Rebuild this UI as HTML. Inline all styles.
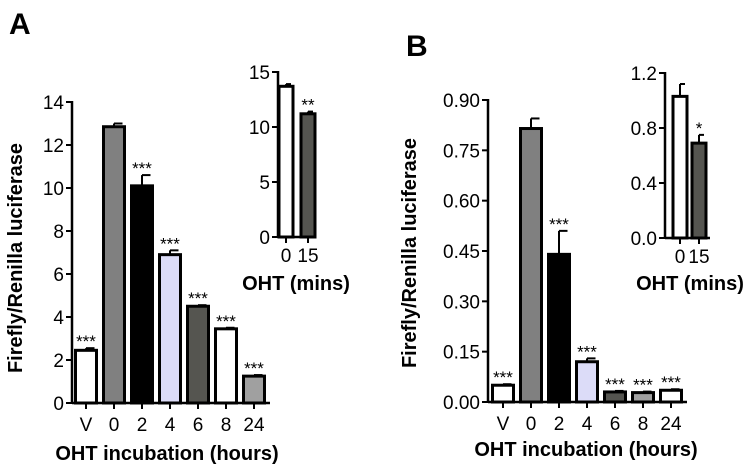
<!DOCTYPE html>
<html><head><meta charset="utf-8"><style>
body{margin:0;background:#fff}
svg{display:block;font-family:"Liberation Sans",Arial,sans-serif}
.t{font-size:19px;fill:#000}
.b{font-size:20px;font-weight:bold;fill:#000}
.s{font-size:17px;fill:#000}
</style></head><body>
<svg id="c" width="748" height="470" viewBox="0 0 748 470">
<text x="9" y="34" font-size="30" font-weight="bold">A</text>
<text x="406" y="56" font-size="30" font-weight="bold">B</text>
</svg>
<script>
const catsMain=["V","0","2","4","6","8","24"];
const fills=["#fff","#808080","#000","#dcdcf8","#555550","#fff","#a0a0a0"];
const aVals=[2.45,12.85,10.1,6.9,4.5,3.45,1.25];
const aErr=[0.1,0.15,0.5,0.2,0.05,0.05,0.05];
const aStars=["***","","***","***","***","***","***"];
const aTicks=[0,2,4,6,8,10,12,14];
const bVals=[0.05,0.815,0.44,0.12,0.03,0.028,0.035];
const bErr=[0.003,0.03,0.07,0.01,0.003,0.003,0.003];
const bStars=["***","","***","***","***","***","***"];
const bTicks=["0.00","0.15","0.30","0.45","0.60","0.75","0.90"];
const bFills=["#fff","#808080","#000","#dcdcf8","#555550","#a0a0a0","#fff"];
const insCats=["0","15"];
const insFills=["#fff","#555550"];
const aInsVals=[13.7,11.2];
const aInsErr=[0.2,0.2];
const aInsStars=["","**"];
const aInsTicks=[0,5,10,15];
const bInsVals=[1.03,0.69];
const bInsErr=[0.09,0.06];
const bInsStars=["","*"];
const bInsTicks=["0.0","0.4","0.8","1.2"];

const svg=document.getElementById('c');
const NS="http://www.w3.org/2000/svg";
function el(t,a,txt){const e=document.createElementNS(NS,t);for(const k in a)e.setAttribute(k,a[k]);if(txt!==undefined)e.textContent=txt;svg.appendChild(e);return e;}

function chart(o){
  const y=v=>o.y0-(v-o.vmin)/(o.vmax-o.vmin)*(o.y0-o.y1);
  const x=i=>o.x0+o.first+i*o.step;
  let e=el('line',{x1:o.ax,y1:o.y0,x2:o.ax,y2:y(o.vmax)-1,stroke:'#000','stroke-width':2.5});
  
  
  e=el('line',{x1:o.ax,y1:o.y0,x2:o.xend,y2:o.y0,stroke:'#000','stroke-width':2.5});
  
  
  o.ticks.forEach(t=>{
    const v=parseFloat(t);
    el('line',{x1:o.ax-6,y1:y(v),x2:o.ax,y2:y(v),stroke:'#000','stroke-width':2});
    e=el('text',{x:o.ax-8,y:y(v)+7,'text-anchor':'end',class:o.fs},t);
    
    
  });
  o.vals.forEach((v,i)=>{
    const cx=x(i),w=o.bw;
    const top=y(v+o.err[i]);
    el('line',{x1:cx,y1:y(v),x2:cx,y2:top,stroke:'#000','stroke-width':2});
    el('line',{x1:cx,y1:top,x2:cx+w/2-2,y2:top,stroke:'#000','stroke-width':2});
    e=el('rect',{x:cx-w/2,y:y(v),width:w,height:o.y0-y(v),fill:o.fills[i],stroke:'#000','stroke-width':3});
    
    
    el('line',{x1:cx,y1:o.y0,x2:cx,y2:o.y0+6,stroke:'#000','stroke-width':2});
    e=el('text',{x:cx,y:o.y0+o.lab,'text-anchor':'middle',class:o.fs},o.cats[i]);
    
    
    if(o.stars[i]){
      e=el('text',{x:cx,y:top+4,'text-anchor':'middle',class:'s'},o.stars[i]);
      e.setAttribute('y',top-1);
      
      
    }
  });
  e=el('text',{x:o.tx,y:o.ty,'text-anchor':'middle',class:'b'},o.title);
  
  
  if(o.ylab){
    e=el('text',{x:0,y:0,'text-anchor':'middle',class:'b',transform:`translate(${o.ylx},${o.yly}) rotate(-90)`},o.ylab);
    
    
  }
}
chart({p:'a-main',ax:72,x0:72,first:14,step:28,bw:21,xend:270,y0:403,y1:102,vmin:0,vmax:14,vals:aVals,err:aErr,stars:aStars,ticks:aTicks.map(String),cats:catsMain,fills:fills,fs:'t',lab:28,title:'OHT incubation  (hours)',tx:167,ty:460,ylab:'Firefly/Renilla luciferase',ylx:22,yly:258});
chart({p:'a-inset',ax:278,x0:278,first:8,step:22,bw:14,xend:316,y0:237,y1:72,vmin:0,vmax:15,vals:aInsVals,err:aInsErr,stars:aInsStars,ticks:aInsTicks.map(String),cats:insCats,fills:insFills,fs:'t',lab:25,title:'OHT (mins)',tx:296,ty:290});
chart({p:'b-main',ax:488,x0:488,first:15,step:28,bw:21,xend:687,y0:402,y1:100,vmin:0,vmax:0.9,vals:bVals,err:bErr,stars:bStars,ticks:bTicks,cats:catsMain,fills:bFills,fs:'t',lab:28,title:'OHT incubation (hours)',tx:586,ty:456,ylab:'Firefly/Renilla luciferase',ylx:416,yly:253});
chart({p:'b-inset',ax:665,x0:665,first:15,step:19,bw:14,xend:710,y0:238,y1:73,vmin:0,vmax:1.2,vals:bInsVals,err:bInsErr,stars:bInsStars,ticks:bInsTicks,cats:insCats,fills:insFills,fs:'t',lab:25,title:'OHT (mins)',tx:690,ty:290});
</script>
</body></html>
